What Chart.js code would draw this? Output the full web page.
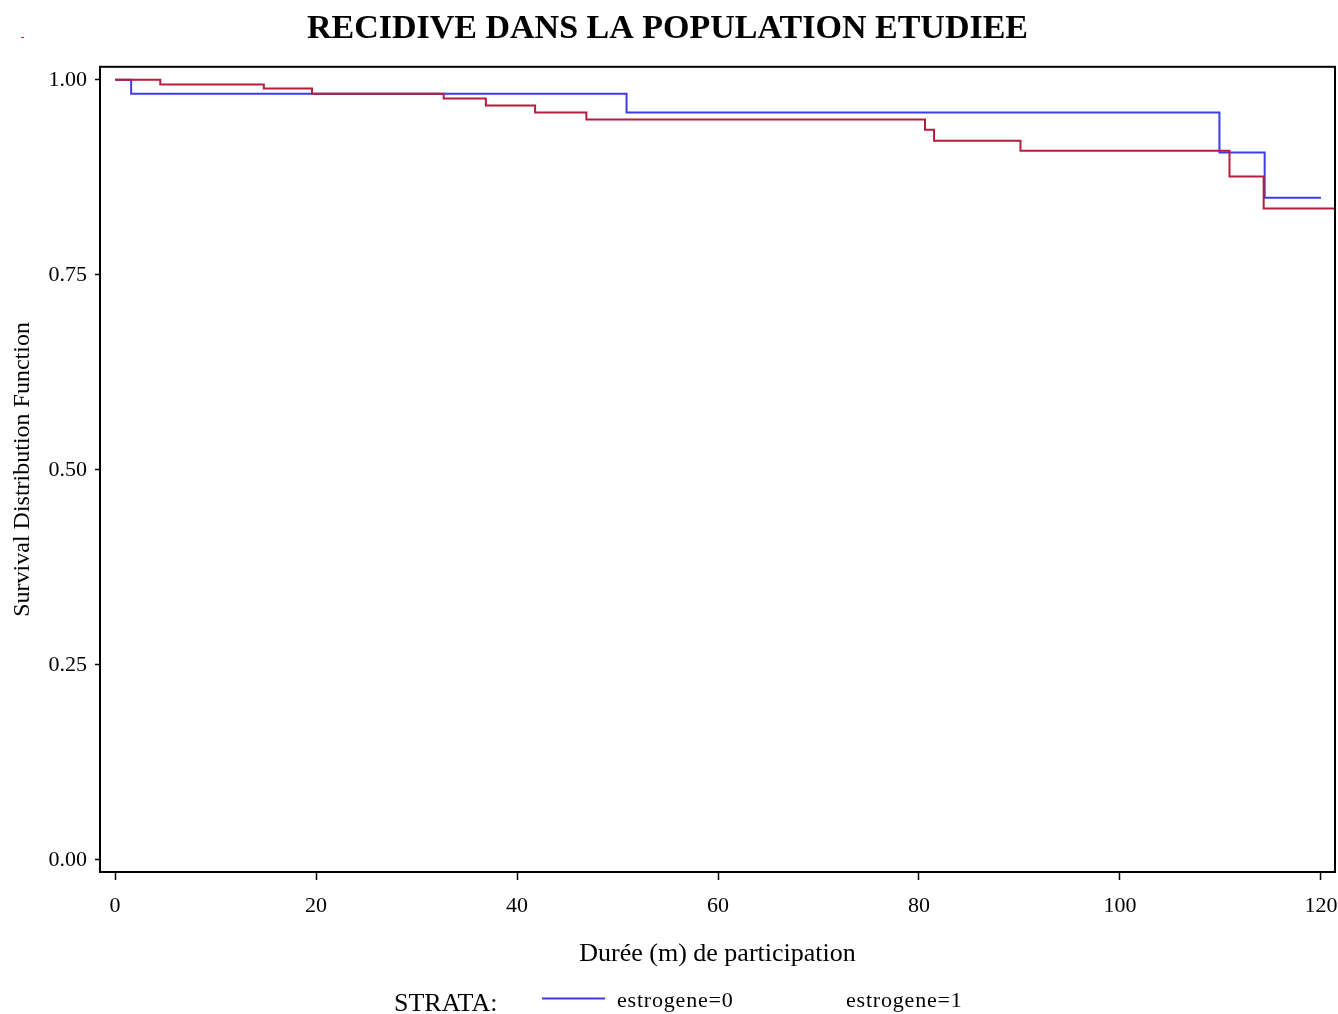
<!DOCTYPE html>
<html>
<head>
<meta charset="utf-8">
<title>Recidive dans la population etudiee</title>
<script src="https://cdn.jsdelivr.net/npm/chart.js"></script>
<style>
  html, body { margin: 0; padding: 0; background: #fff; }
  canvas { display: block; }
</style>
</head>
<body>
<canvas id="km" width="1338" height="1014"></canvas>
<script>
// Kaplan-Meier: recidive by estrogene strata
// values (time in months, survival)

const BLUE_TIME = [0, 1.6, 50.9, 109.9, 114.4, 120];
const BLUE_SURV = [1.0, 0.982, 0.958, 0.907, 0.849, 0.849];

const RED_TIME = [0, 4.5, 14.8, 19.6, 32.7, 36.9, 41.8, 46.9, 80.6, 81.5, 90.1, 110.9, 114.3, 121.4];
const RED_SURV = [1.0, 0.994, 0.989, 0.982, 0.976, 0.967, 0.958, 0.949, 0.936, 0.922, 0.909, 0.876, 0.835, 0.835];

const X_TICKS = [0, 20, 40, 60, 80, 100, 120];
const Y_TICKS = [0, 0.25, 0.5, 0.75, 1.0];

const SERIES_LABELS = ['estrogene=0', 'estrogene=1'];
const TITLE = 'RECIDIVE DANS LA POPULATION ETUDIEE';

// ── styles ────────────────────────────────────────────────────────────────────
const SERIF = "'Liberation Serif', 'Times New Roman', serif";
const BLUE = '#3c3cea';
const RED  = '#b41e3c';

function toPoints(xs, ys) {
    return xs.map((x, i) => ({ x, y: ys[i] }));
}

// frame round the plot + the SAS-style legend line at the bottom
const framePlugin = {
    id: 'frame',
    afterDraw(chart) {
        const { ctx, chartArea: a } = chart;
        ctx.save();
        ctx.strokeStyle = '#000';
        ctx.lineWidth = 2;
        ctx.strokeRect(a.left, a.top, a.right - a.left, a.bottom - a.top);

        // stray red mark top-left in the original
        ctx.strokeStyle = RED;
        ctx.lineWidth = 1;
        ctx.beginPath();
        ctx.moveTo(21, 37.5);
        ctx.lineTo(24, 37.5);
        ctx.stroke();

        // legend
        ctx.fillStyle = '#000';
        ctx.textBaseline = 'alphabetic';
        ctx.font = `26px ${SERIF}`;
        ctx.fillText('STRATA:', 394, 1011);

        ctx.strokeStyle = BLUE;
        ctx.lineWidth = 1.8;
        ctx.beginPath();
        ctx.moveTo(542, 998.5);
        ctx.lineTo(605, 998.5);
        ctx.stroke();

        ctx.font = `22px ${SERIF}`;
        ctx.letterSpacing = '0.8px';
        ctx.fillText(SERIES_LABELS[0], 617, 1007);
        ctx.fillText(SERIES_LABELS[1], 846, 1007);
        ctx.restore();
    }
};

// ── chart ─────────────────────────────────────────────────────────────────────
const ctx = document.getElementById('km').getContext('2d');
new Chart(ctx, {
    type: 'line',
    data: {
        datasets: [
            {
                label: SERIES_LABELS[1],
                data: toPoints(RED_TIME, RED_SURV),
                borderColor: RED, borderWidth: 2,
                stepped: 'before', pointRadius: 0, fill: false, order: 0
            },
            {
                label: SERIES_LABELS[0],
                data: toPoints(BLUE_TIME, BLUE_SURV),
                borderColor: BLUE, borderWidth: 2,
                stepped: 'before', pointRadius: 0, fill: false, order: 1
            }
        ]
    },
    options: {
        responsive: false,
        animation: false,
        devicePixelRatio: 1,
        layout: { padding: { left: 0, right: 3, top: 0, bottom: 0 } },
        plugins: {
            legend: { display: false },
            tooltip: { enabled: false },
            title: {
                display: true,
                text: TITLE,
                color: '#000',
                font: { family: SERIF, size: 34, weight: 'bold' },
                padding: { top: 9, bottom: 17 }
            }
        },
        scales: {
            x: {
                type: 'linear',
                min: -1.5, max: 121.4,
                afterFit: s => { s.height = 142; s.paddingLeft = 0; s.paddingRight = 0; },
                afterBuildTicks: s => { s.ticks = X_TICKS.map(v => ({ value: v })); },
                ticks: {
                    includeBounds: false,
                    color: '#000', padding: 13,
                    font: { family: SERIF, size: 22 },
                    callback: v => String(v)
                },
                grid: { display: true, drawOnChartArea: false, drawTicks: true, tickLength: 8, tickColor: '#000', tickWidth: 1.5 },
                border: { display: true, color: '#000', width: 2 },
                title: {
                    display: true,
                    text: 'Durée (m) de participation',
                    color: '#000',
                    font: { family: SERIF, size: 26 },
                    padding: { top: 0, bottom: 44 }
                }
            },
            y: {
                type: 'linear',
                min: -0.0154, max: 1.0167,
                afterFit: s => { s.width = 100; s.paddingTop = 0; s.paddingBottom = 0; },
                afterBuildTicks: s => { s.ticks = Y_TICKS.map(v => ({ value: v })); },
                ticks: {
                    includeBounds: false,
                    color: '#000', padding: 8,
                    font: { family: SERIF, size: 22 },
                    callback: v => Number(v).toFixed(2)
                },
                grid: { display: true, drawOnChartArea: false, drawTicks: true, tickLength: 5, tickColor: '#000', tickWidth: 1.5 },
                border: { display: true, color: '#000', width: 2 },
                title: {
                    display: true,
                    text: 'Survival Distribution Function',
                    color: '#000',
                    font: { family: SERIF, size: 24 },
                    padding: { top: 8, bottom: 0 }
                }
            }
        }
    },
    plugins: [framePlugin]
});
</script>
</body>
</html>
